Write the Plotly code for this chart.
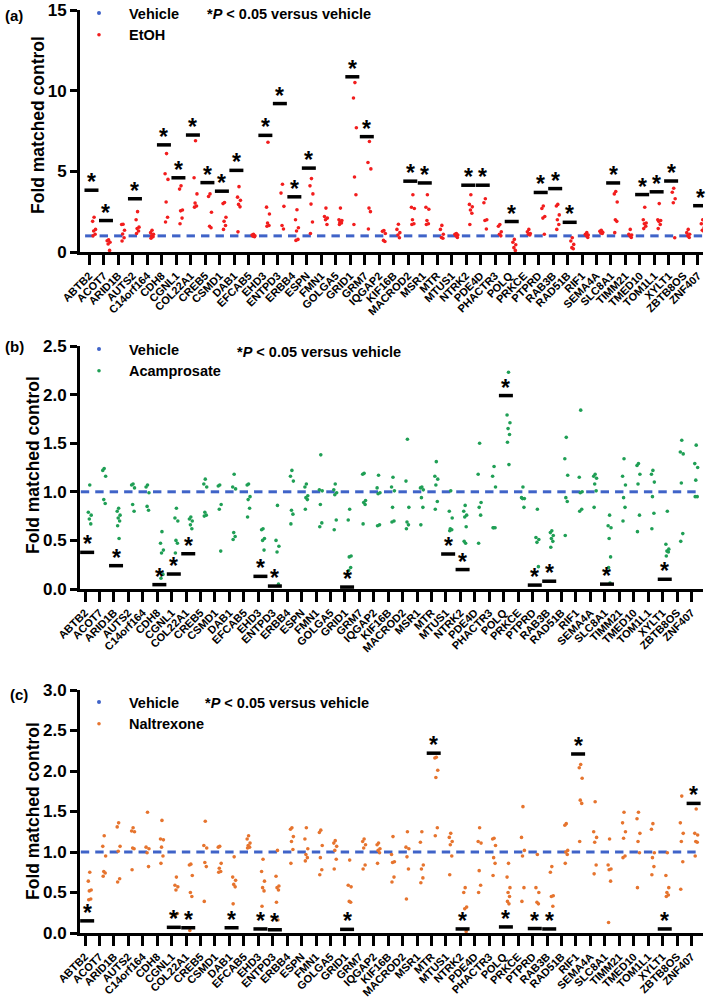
import plotly.graph_objects as go

genes = ["ABTB2", "ACOT7", "ARID1B", "AUTS2", "C14orf164", "CDH8", "CGNL1", "COL22A1",
         "CREB5", "CSMD1", "DAB1", "EFCAB5", "EHD3", "ENTPD3", "ERBB4", "ESPN", "FMN1",
         "GOLGA5", "GRID1", "GRM7", "IQGAP2", "KIF16B", "MACROD2", "MSR1", "MTR", "MTUS1",
         "NTRK2", "PDE4D", "PHACTR3", "POLQ", "PRKCE", "PTPRD", "RAB3B", "RAD51B", "RIF1",
         "SEMA4A", "SLC8A1", "TIMM21", "TMED10", "TOM1L1", "XYLT1", "ZBTB8OS", "ZNF407"]

vehicle = [1.0, 1.0, 1.0, 1.0, 1.0, 1.0, 1.0, 1.0, 1.0, 1.0, 1.0, 1.0, 1.0, 1.0, 1.0,
           1.0, 1.0, 1.0, 1.0, 1.0, 1.0, 1.0, 1.0, 1.0, 1.0, 1.0, 1.0, 1.0, 1.0, 1.0,
           1.0, 1.0, 1.0, 1.0, 1.0, 1.0, 1.0, 1.0, 1.0, 1.0, 1.0, 1.0, 1.0]

etoh = [
    [2.15, 1.9, 1.4, 1.3, 1.1, 1.0],
    [0.75, 0.7, 0.6, 0.5, 0.1],
    [1.72, 1.7, 1.35, 1.12, 0.88, 0.68],
    [2.5, 2.0, 1.54, 1.45, 1.3, 1.15],
    [1.35, 1.2, 1.1, 1.0, 0.95, 0.85],
    [6.1, 4.85, 4.5, 3.1, 2.15, 1.86],
    [4.1, 3.9, 2.6, 2.55, 2.1, 1.75],
    [6.9, 4.6, 3.6, 3.03, 2.85, 2.78],
    [3.6, 3.44, 2.46, 1.6, 1.5],
    [3.07, 3.0, 2.15, 1.9, 1.64, 1.4],
    [4.05, 3.4, 3.2, 2.95, 2.8, 1.25],
    [1.1, 1.05, 1.0, 0.98, 0.95],
    [6.8, 2.78, 2.36, 1.8, 1.64, 1.6],
    [4.2, 3.65, 2.83, 1.64, 1.43],
    [2.62, 2.0, 1.5, 1.3, 0.78, 0.72],
    [4.55, 4.1, 3.6, 2.97, 1.86, 1.15],
    [2.72, 2.2, 2.1, 2.0, 1.7],
    [2.72, 2.0, 1.95, 1.85, 1.8, 1.7],
    [10.5, 9.55, 7.7, 4.65, 3.55, 1.7],
    [6.85, 5.55, 5.15, 2.72, 2.5, 1.43],
    [1.33, 1.28, 1.15, 0.72, 0.65],
    [1.72, 1.4, 1.2, 1.05, 0.88],
    [3.55, 2.77, 2.7, 2.0, 1.75, 1.7],
    [3.55, 2.77, 2.65, 1.95, 1.75, 1.7],
    [1.65, 1.4, 1.1, 0.9, 0.85],
    [1.15, 1.1, 1.05, 1.0, 0.9],
    [3.55, 2.95, 2.8, 2.6, 2.4, 1.7],
    [3.3, 3.05, 2.0, 1.95, 1.43],
    [1.7, 1.6, 1.25, 1.1, 1.0],
    [0.78, 0.6, 0.45, 0.27, 0.1],
    [1.4, 1.25, 1.15, 1.1, 1.05],
    [2.85, 2.7, 2.2, 2.1, 1.1],
    [2.95, 2.85, 2.3, 2.0, 1.7, 1.4],
    [0.88, 0.68, 0.47, 0.27, 0.2],
    [1.2, 1.1, 1.05, 1.0, 0.9],
    [1.35, 1.28, 1.22, 1.18, 1.15],
    [3.75, 3.6, 3.1, 2.0, 1.9, 1.2],
    [1.4, 1.1, 1.05, 1.0, 0.9],
    [2.77, 2.0, 1.8, 1.75, 1.6, 1.45],
    [3.0, 2.0, 1.95, 1.9, 1.7, 1.45],
    [3.95, 3.7, 3.3, 3.05, 0.88],
    [1.4, 1.2, 1.1, 1.0, 0.9],
    [2.0, 1.75, 1.5, 1.35, 1.3],
]
etoh_sig = [3.83, 1.95, None, 3.3, None, 6.64, 4.6, 7.25, 4.3, 3.77, 5.06, None, 7.23,
            9.2, 3.42, 5.2, None, None, 10.86, 7.15, None, None, 4.39, 4.28, None, None,
            4.14, 4.14, None, 1.89, None, 3.69, 3.93, 1.84, None, None, 4.28, None, 3.56,
            3.73, 4.4, None, 2.87]

acamprosate = [
    [1.07, 0.79, 0.76, 0.72, 0.67],
    [1.24, 1.22, 1.16, 0.92, 0.88],
    [0.83, 0.8, 0.76, 0.73, 0.7, 0.65, 0.52],
    [1.08, 1.07, 1.04, 0.87, 0.8],
    [1.07, 1.05, 0.99, 0.85, 0.81],
    [0.59, 0.47, 0.4, 0.37, 0.15, 0.11],
    [0.83, 0.73, 0.7, 0.5, 0.47, 0.37],
    [0.74, 0.72, 0.7, 0.66, 0.62],
    [1.13, 1.08, 1.05, 0.79, 0.76, 0.75],
    [1.07, 1.06, 0.87, 0.82, 0.39],
    [1.18, 1.05, 1.03, 0.58, 0.54, 0.51],
    [1.08, 1.07, 0.95, 0.92, 0.83, 0.74],
    [0.62, 0.61, 0.52, 0.5, 0.4],
    [0.86, 0.5, 0.44, 0.38, 0.05],
    [1.22, 1.16, 1.11, 0.81, 0.77, 0.67],
    [1.08, 1.05, 0.96, 0.94, 0.92, 0.82],
    [1.38, 1.02, 1.01, 0.87, 0.68, 0.64],
    [1.08, 1.02, 0.99, 0.97, 0.71, 0.61],
    [0.82, 0.71, 0.34, 0.33, 0.22, 0.19],
    [1.19, 1.18, 0.91, 0.89, 0.87, 0.67],
    [1.17, 1.04, 0.99, 0.98, 0.66, 0.65],
    [1.15, 1.05, 1.01, 0.84, 0.7, 0.69],
    [1.54, 1.11, 0.84, 0.69, 0.66, 0.62],
    [1.05, 1.04, 1.02, 0.94, 0.84, 0.66],
    [1.31, 1.16, 1.13, 1.07, 0.9, 0.82],
    [1.01, 0.8, 0.73, 0.62, 0.61, 0.6],
    [0.86, 0.8, 0.76, 0.74, 0.64, 0.49, 0.47],
    [1.5, 1.18, 0.89, 0.84, 0.76, 0.47],
    [1.26, 1.16, 1.05, 0.63, 0.63, 0.63],
    [2.23, 1.79, 1.71, 1.65, 1.59, 1.51, 1.28],
    [1.05, 0.94, 0.93, 0.93, 0.84],
    [0.82, 0.53, 0.51, 0.48, 0.23],
    [0.6, 0.58, 0.55, 0.52, 0.49, 0.43],
    [1.56, 1.34, 1.17, 0.94, 0.9, 0.55],
    [1.84, 1.15, 1.0, 0.99, 0.82, 0.8],
    [1.18, 1.16, 1.14, 1.08, 1.01, 0.84],
    [0.76, 0.65, 0.63, 0.52, 0.33, 0.22, 0.06],
    [1.34, 1.16, 1.07, 0.94, 0.84, 0.7],
    [1.29, 1.27, 1.18, 1.08, 0.76, 0.59],
    [1.22, 1.18, 1.1, 0.95, 0.78, 0.62],
    [0.8, 0.46, 0.41, 0.39, 0.38, 0.34],
    [1.53, 1.41, 1.39, 1.09, 0.57, 0.49],
    [1.48, 1.29, 1.25, 1.12, 0.95, 0.95],
]
acamprosate_sig = [0.377, None, 0.24, None, None, 0.045, 0.154, 0.363, None, None, None,
                   None, 0.13, 0.03, None, None, None, None, 0.02, None, None, None, None,
                   None, None, 0.36, 0.2, None, None, 1.99, None, 0.04, 0.08, None, None,
                   None, 0.05, None, None, None, 0.1, None, None]

naltrexone = [
    [0.75, 0.64, 0.53, 0.52, 0.42, 0.41],
    [1.2, 1.07, 0.95, 0.76, 0.74, 0.7],
    [1.36, 1.31, 1.07, 1.01, 0.67, 0.63],
    [1.3, 1.26, 1.25, 1.05, 1.04, 0.78],
    [1.49, 1.06, 1.04, 0.99, 0.82],
    [1.39, 1.16, 1.15, 1.06, 0.95, 0.86],
    [0.69, 0.59, 0.57, 0.53, 0.24, 0.21],
    [0.85, 0.84, 0.71, 0.5, 0.45, 0.03],
    [1.38, 1.08, 1.05, 0.87, 0.82, 0.39],
    [1.07, 1.06, 0.86, 0.8, 0.76, 0.75],
    [0.94, 0.69, 0.65, 0.6, 0.57, 0.36],
    [1.2, 1.16, 1.11, 1.08, 1.06, 1.05],
    [0.91, 0.76, 0.64, 0.56, 0.52, 0.33],
    [1.02, 0.7, 0.58, 0.56, 0.53, 0.38, 0.16],
    [1.3, 1.28, 1.19, 1.13, 1.03, 0.86],
    [1.3, 1.16, 1.04, 0.97, 0.93, 0.89],
    [1.27, 1.24, 1.08, 0.93, 0.78, 0.72],
    [1.14, 1.11, 1.07, 1.02, 0.91, 0.79],
    [0.9, 0.59, 0.57, 0.39, 0.38],
    [1.16, 1.13, 1.09, 1.05, 0.84, 0.79],
    [1.11, 1.09, 1.04, 1.02, 0.99, 0.86],
    [1.19, 0.97, 0.88, 0.87, 0.69, 0.63],
    [1.25, 1.06, 1.04, 0.94, 0.79, 0.42],
    [1.25, 1.12, 0.84, 0.79, 0.68, 0.62],
    [2.17, 2.16, 2.01, 1.92, 1.3, 1.2],
    [1.23, 1.18, 1.13, 1.09, 0.95, 0.72],
    [0.56, 0.5, 0.32, 0.3, 0.02],
    [1.3, 1.13, 1.11, 0.77, 0.59, 0.5],
    [1.17, 1.16, 1.08, 0.93, 0.86, 0.71],
    [0.86, 0.69, 0.56, 0.5, 0.45, 0.39, 0.36],
    [1.56, 1.18, 1.02, 0.95, 0.56, 0.39],
    [0.97, 0.56, 0.5, 0.38, 0.36],
    [0.82, 0.75, 0.46, 0.45, 0.33],
    [1.35, 1.33, 1.02, 1.0, 0.97, 0.86],
    [2.08, 2.04, 1.91, 1.64, 1.6, 1.13],
    [1.62, 1.25, 1.18, 1.12, 0.84, 0.73],
    [1.16, 0.84, 0.79, 0.78, 0.64, 0.13],
    [1.49, 1.36, 1.25, 1.17, 0.95, 0.93],
    [1.49, 1.41, 1.23, 1.13, 0.99, 0.56],
    [1.35, 1.28, 0.99, 0.93, 0.82, 0.72],
    [0.99, 0.71, 0.56, 0.5, 0.47, 0.45],
    [1.69, 1.36, 1.23, 1.13, 0.88, 0.54],
    [1.53, 1.23, 1.21, 1.13, 1.12, 0.95],
]
naltrexone_sig = [0.15, None, None, None, None, None, 0.07, 0.065, None, None, 0.065, None,
                  0.05, 0.04, None, None, None, None, 0.045, None, None, None, None, None,
                  2.22, None, 0.05, None, None, 0.075, None, 0.055, 0.05, None, 2.21, None,
                  None, None, None, None, 0.05, None, 1.6]

FONT = "Liberation Sans, Arial, Helvetica, sans-serif"
BLUE = "#3f63c8"

# pixel layout helpers (paper coordinates)
L, R, T, B = 80, 6, 7, 64
W, H = 709, 997
PW, PH = W - L - R, H - T - B


def py(p):  # pixel y -> paper y
    return (H - B - p) / PH


def px(p):  # pixel x -> paper x
    return (p - L) / PW


panels = [
    dict(vals=etoh, sig=etoh_sig, name="EtOH", color="#f21d1d", ax="", leg="legend",
         ytop=10, ybot=252, yr=[0, 15], tv=[0, 5, 10, 15], tt=["0", "5", "10", "15"],
         xr=[-0.642, 42.35], letter="(a)", lx=3, ly=15, ptx=205, pty=14, legy=-3,
         tx=38, ty=125),
    dict(vals=acamprosate, sig=acamprosate_sig, name="Acamprosate", color="#1f9f55", ax="2",
         leg="legend2", ytop=346, ybot=589, yr=[0, 2.5], tv=[0, 0.5, 1, 1.5, 2, 2.5],
         tt=["0.0", "0.5", "1.0", "1.5", "2.0", "2.5"], xr=[-0.346, 42.8], letter="(b)",
         lx=3, ly=346, ptx=235, pty=352, legy=333, tx=33, ty=465),
    dict(vals=naltrexone, sig=naltrexone_sig, name="Naltrexone", color="#e6742e", ax="3",
         leg="legend3", ytop=690, ybot=933, yr=[0, 3.0], tv=[0, 0.5, 1, 1.5, 2, 2.5, 3],
         tt=["0.0", "0.5", "1.0", "1.5", "2.0", "2.5", "3.0"], xr=[-0.346, 42.8],
         letter="(c)", lx=8, ly=694, ptx=203, pty=703, legy=686, tx=33, ty=811),
]

offsets = [0.33, 0.23, 0.43, 0.3, 0.4, 0.26, 0.36]

fig = go.Figure()
annotations = []
layout = dict(
    width=W, height=H, margin=dict(l=L, r=R, t=T, b=B, autoexpand=False),
    paper_bgcolor="white", plot_bgcolor="white",
    font=dict(family=FONT, color="black"),
)

idx = list(range(len(genes)))
for p in panels:
    xa = "x" + p["ax"]
    ya = "y" + p["ax"]
    # vehicle (all at 1.0) drawn as short horizontal dashes per gene
    fig.add_trace(go.Scatter(
        x=idx, y=vehicle, mode="markers", xaxis=xa, yaxis=ya, showlegend=False,
        hoverinfo="skip",
        marker=dict(symbol="line-ew", size=6, color=BLUE, line=dict(color=BLUE, width=3)),
    ))
    fig.add_trace(go.Scatter(
        x=[None], y=[None], mode="markers", xaxis=xa, yaxis=ya, name="Vehicle",
        legend=p["leg"], marker=dict(size=4, color=BLUE),
    ))
    xs, ys = [], []
    for i, vals in enumerate(p["vals"]):
        for k, v in enumerate(vals):
            xs.append(i + offsets[k % len(offsets)])
            ys.append(v)
    fig.add_trace(go.Scatter(
        x=xs, y=ys, mode="markers", xaxis=xa, yaxis=ya, name=p["name"], legend=p["leg"],
        marker=dict(size=3.6, color=p["color"]),
    ))
    sx = [i + 0.15 for i, s in enumerate(p["sig"]) if s is not None]
    sy = [s for s in p["sig"] if s is not None]
    fig.add_trace(go.Scatter(
        x=sx, y=sy, mode="markers", xaxis=xa, yaxis=ya, showlegend=False,
        marker=dict(symbol="line-ew", size=10, color="black", line=dict(color="black", width=3.5)),
    ))
    for xv, yv in zip(sx, sy):
        annotations.append(dict(
            x=xv, y=yv, xref=xa, yref=ya, text="<b>*</b>", showarrow=False,
            yanchor="middle", xanchor="center", yshift=8,
            font=dict(size=23, family=FONT, color="black"),
        ))
    annotations.append(dict(
        x=px(p["lx"]), y=py(p["ly"]), xref="paper", yref="paper", text="<b>" + p["letter"] + "</b>",
        showarrow=False, xanchor="left", yanchor="middle", font=dict(size=15, family=FONT),
    ))
    annotations.append(dict(
        x=px(p["ptx"]), y=py(p["pty"]), xref="paper", yref="paper",
        text="<b>*<i>P</i> &lt; 0.05 versus vehicle</b>",
        showarrow=False, xanchor="left", yanchor="middle", font=dict(size=14.5, family=FONT),
    ))
    annotations.append(dict(
        x=px(p["tx"]), y=py(p["ty"]), xref="paper", yref="paper",
        text="<b>Fold matched control</b>", textangle=-90,
        showarrow=False, xanchor="center", yanchor="middle", font=dict(size=17.5, family=FONT),
    ))
    dom = [py(p["ybot"]), py(p["ytop"])]
    layout["xaxis" + p["ax"]] = dict(
        domain=[0, 1], anchor=ya, range=p["xr"], tickmode="array", tickvals=idx, ticktext=genes,
        tickangle=-45, ticks="outside", ticklen=10, tickwidth=2.5, tickcolor="black",
        showline=True, linewidth=3, linecolor="black", showgrid=False, zeroline=False,
        tickfont=dict(size=11, family=FONT, weight="bold", color="black"), automargin=False,
        ticklabeloverflow="allow",
    )
    layout["yaxis" + p["ax"]] = dict(
        domain=dom, anchor=xa, range=p["yr"], tickmode="array", tickvals=p["tv"], ticktext=p["tt"],
        ticks="outside", ticklen=7, tickwidth=3, tickcolor="black",
        showline=True, linewidth=3, linecolor="black", showgrid=False, zeroline=False,
        tickfont=dict(size=17, family=FONT, weight="bold", color="black"), automargin=False,
        ticklabeloverflow="allow",
    )
    layout[p["leg"]] = dict(
        x=px(69), y=py(p["legy"]), xanchor="left", yanchor="top", bgcolor="rgba(0,0,0,0)",
        font=dict(size=14.5, family=FONT, weight="bold", color="black"), itemwidth=50,
        tracegroupgap=0,
    )

layout["annotations"] = annotations
fig.update_layout(**layout)
fig.write_html(
    "out.html",
    config={"displayModeBar": False},
    post_script="document.body.style.margin='0';document.body.style.padding='0';",
)
